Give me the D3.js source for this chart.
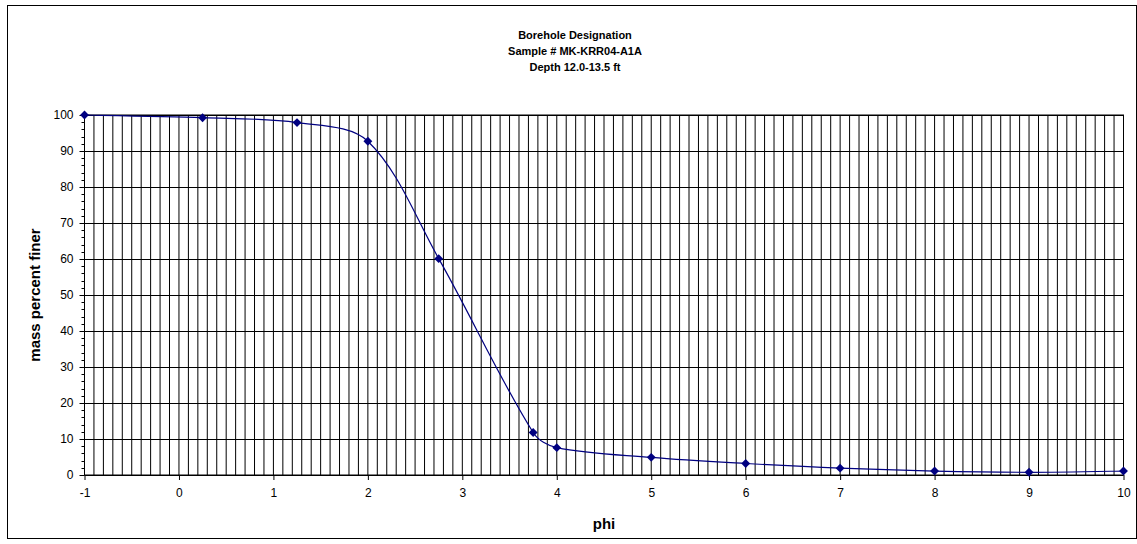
<!DOCTYPE html>
<html>
<head>
<meta charset="utf-8">
<script src="https://cdn.jsdelivr.net/npm/d3@7"></script>
<style>
  html, body { margin: 0; padding: 0; background: #fff; }
  svg { display: block; font-family: "Liberation Sans", Arial, sans-serif; }
</style>
</head>
<body>
<svg id="chart" width="1137" height="544"></svg>
<script>
const titleLines = ["Borehole Designation", "Sample # MK-KRR04-A1A", "Depth 12.0-13.5 ft"];
const xLabel = "phi";
const yLabel = "mass percent finer";
const phi = [-1, 0.25, 1.25, 2, 2.75, 3.75, 4, 5, 6, 7, 8, 9, 10];
const percentFiner = [100, 99.25, 97.9, 92.7, 60.1, 11.8, 7.6, 4.9, 3.2, 1.9, 1.1, 0.75, 1.1];
const xTicks = [-1, 0, 1, 2, 3, 4, 5, 6, 7, 8, 9, 10];
const yTicks = [0, 10, 20, 30, 40, 50, 60, 70, 80, 90, 100];

// Spreadsheet-style smoothing: tangent through neighbours, control lengths
// split in proportion to the adjacent segment lengths.
function smoothCurve(context) {
  let pts = [];
  return {
    areaStart() {}, areaEnd() {},
    lineStart() { pts = []; },
    point(px, py) { pts.push([+px, +py]); },
    lineEnd() {
      const n = pts.length;
      if (!n) return;
      context.moveTo(pts[0][0], pts[0][1]);
      const dist = (a, b) => Math.hypot(b[0] - a[0], b[1] - a[1]);
      const ctrl = i => {
        const p = pts[i];
        const prev = pts[Math.max(0, i - 1)], next = pts[Math.min(n - 1, i + 1)];
        const dx = next[0] - prev[0], dy = next[1] - prev[1];
        const sIn = i > 0 ? dist(prev, p) : 0, sOut = i < n - 1 ? dist(p, next) : 0;
        const tot = sIn + sOut;
        const kIn = tot ? sIn / tot / 3 : 0, kOut = tot ? sOut / tot / 3 : 0;
        const k = (i === 0 || i === n - 1) ? 1 / 3 : 1;
        return {
          inC: [p[0] - dx * kIn * k, p[1] - dy * kIn * k],
          outC: [p[0] + dx * kOut * k, p[1] + dy * kOut * k]
        };
      };
      const cs = pts.map((_, i) => ctrl(i));
      for (let i = 0; i < n - 1; i++) {
        const a = cs[i].outC, b = cs[i + 1].inC, e = pts[i + 1];
        context.bezierCurveTo(a[0], a[1], b[0], b[1], e[0], e[1]);
      }
    }
  };
}

const svg = d3.select("#chart");
const plot = { left: 84.5, right: 1123.5, top: 115, bottom: 475 };

// outer chart border
svg.append("rect").attr("x", 7.5).attr("y", 5.5).attr("width", 1129).attr("height", 533)
  .attr("fill", "#fff").attr("stroke", "#000").attr("stroke-width", 1);

const x = d3.scaleLinear().domain([-1, 10]).range([plot.left, plot.right]);
const y = d3.scaleLinear().domain([0, 100]).range([plot.bottom, plot.top]);

// minor vertical gridlines every 0.1
const minorX = d3.range(-10, 101).map(i => i / 10);
svg.append("g").selectAll("line").data(minorX).join("line")
  .attr("x1", d => x(d)).attr("x2", d => x(d))
  .attr("y1", plot.top).attr("y2", plot.bottom)
  .attr("stroke", "#000").attr("stroke-width", 1);

// horizontal gridlines
svg.append("g").selectAll("line").data(yTicks).join("line")
  .attr("x1", plot.left).attr("x2", plot.right)
  .attr("y1", d => Math.round(y(d)) + 0.5).attr("y2", d => Math.round(y(d)) + 0.5)
  .attr("stroke", "#000").attr("stroke-width", 1);

// plot border
svg.append("rect").attr("x", plot.left).attr("y", plot.top)
  .attr("width", plot.right - plot.left).attr("height", plot.bottom - plot.top)
  .attr("fill", "none").attr("stroke", "#000").attr("stroke-width", 1);

// y axis
const yAxis = d3.axisLeft(y).tickValues(yTicks).tickSize(5).tickPadding(6).tickFormat(d => String(d));
const gy = svg.append("g").attr("transform", `translate(${plot.left},0)`).call(yAxis);
gy.select(".domain").remove();
gy.selectAll("text").attr("font-size", 12).attr("font-family", "Liberation Sans, Arial, sans-serif").attr("fill", "#000");
const yMinor = d3.range(0, 101, 2).filter(v => v % 10 !== 0);
svg.append("g").selectAll("line").data(yMinor).join("line")
  .attr("x1", plot.left - 3).attr("x2", plot.left)
  .attr("y1", d => Math.round(y(d)) + 0.5).attr("y2", d => Math.round(y(d)) + 0.5)
  .attr("stroke", "#000").attr("stroke-width", 1);

// x axis
const xAxis = d3.axisBottom(x).tickValues(xTicks).tickSize(5).tickPadding(8).tickFormat(d => String(d));
const gx = svg.append("g").attr("transform", `translate(0,${plot.bottom})`).call(xAxis);
gx.select(".domain").remove();
gx.selectAll("text").attr("font-size", 12).attr("font-family", "Liberation Sans, Arial, sans-serif").attr("fill", "#000");

// line
const pts = phi.map((p, i) => [p, percentFiner[i]]);
const line = d3.line().x(d => x(d[0])).y(d => y(d[1])).curve(smoothCurve);
svg.append("path").datum(pts).attr("d", line)
  .attr("fill", "none").attr("stroke", "#000080").attr("stroke-width", 1.2);

// markers
const sym = d3.symbol().type(d3.symbolDiamond2).size(50);
svg.append("g").selectAll("path").data(pts).join("path")
  .attr("transform", d => `translate(${x(d[0])},${y(d[1])})`)
  .attr("d", sym).attr("fill", "#000080");

// title
svg.append("g").selectAll("text").data(titleLines).join("text")
  .attr("x", 575).attr("y", (d, i) => 39 + i * 16)
  .attr("text-anchor", "middle").attr("font-size", 11).attr("font-weight", "bold")
  .text(d => d);

// axis titles
svg.append("text").attr("x", (plot.left + plot.right) / 2).attr("y", 529)
  .attr("text-anchor", "middle").attr("font-size", 15).attr("font-weight", "bold").text(xLabel);
svg.append("text").attr("transform", `translate(40,${(plot.top + plot.bottom) / 2}) rotate(-90)`)
  .attr("text-anchor", "middle").attr("font-size", 15).attr("font-weight", "bold").text(yLabel);
</script>
</body>
</html>
